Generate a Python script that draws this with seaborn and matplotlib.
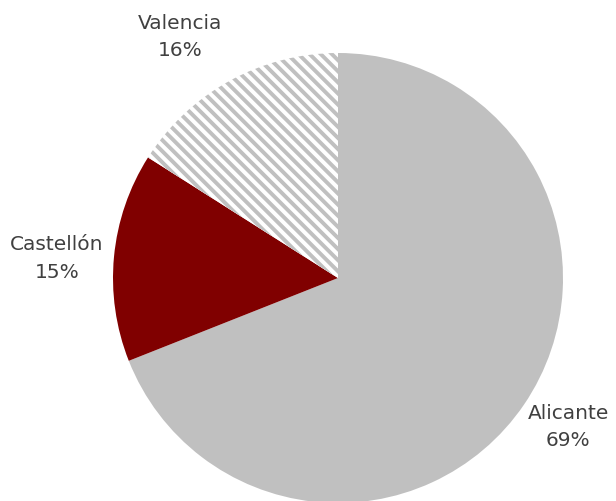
import numpy as np
import seaborn as sns
from matplotlib import pyplot as plt

provincias = ['Alicante', 'Castellón', 'Valencia']
porcentajes = [69, 15, 16]
etiquetas = ['69%', '15%', '16%']

sns.set_style('white')
plt.rcParams['font.family'] = ['DejaVu Sans']
plt.rcParams['hatch.linewidth'] = 2.8
plt.rcParams['hatch.color'] = '#c0c0c0'

fig = plt.figure(figsize=(6.16, 5.01), dpi=100)
ax = fig.add_axes([0, 0, 1, 1])

centro = (338, 223)
radio = 225
wedges, _ = ax.pie(porcentajes, center=centro, radius=radio, startangle=90,
                   counterclock=False, colors=['#c0c0c0', '#800000', 'white'],
                   wedgeprops=dict(linewidth=0))
wedges[2].set_hatch('\\\\\\')
wedges[2].set_edgecolor('#c0c0c0')
wedges[2].set_linewidth(0)

# posicion de las etiquetas (distancia relativa al radio y giro en grados)
distancias = [1.218, 1.252, 1.28]
giros = [1.3, 1.5, 4.4]
for w, prov, pct, d, g in zip(wedges, provincias, etiquetas, distancias, giros):
    ang = np.deg2rad((w.theta1 + w.theta2) / 2 + g)
    x = centro[0] + d * radio * np.cos(ang)
    y = centro[1] + d * radio * np.sin(ang)
    ax.text(x, y, f'{prov}\n{pct}', ha='center', va='center', fontsize=14.5,
            color='#404040', linespacing=1.58)

ax.set_xlim(0, 616)
ax.set_ylim(0, 501)
ax.set_aspect('equal')
ax.axis('off')
plt.savefig('out.png', dpi=100)
